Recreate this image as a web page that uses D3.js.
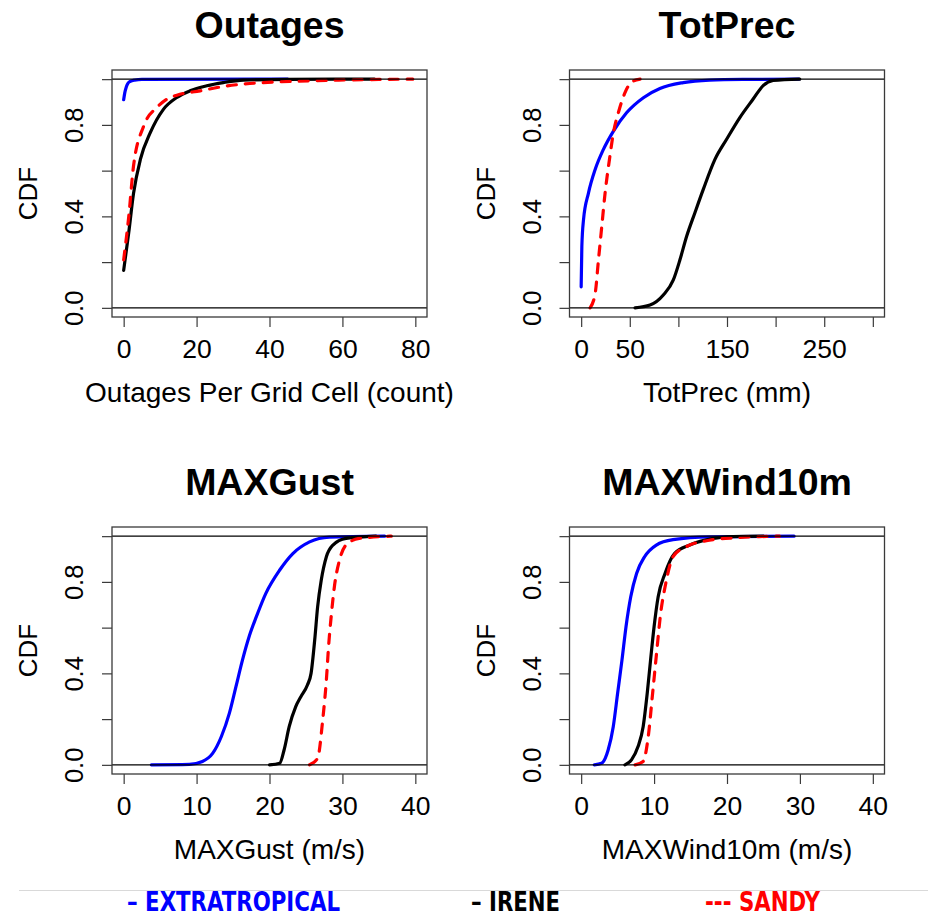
<!DOCTYPE html>
<html>
<head>
<meta charset="utf-8">
<script src="https://cdn.jsdelivr.net/npm/d3@7"></script>
<style>
  html, body { margin: 0; padding: 0; background: #fff; }
  svg { display: block; }
</style>
</head>
<body>
<div id="chart"></div>
<script>
// ---- Empirical CDF curves, [value, cumulative probability] ----
const outagesExtra = [[0,0.91],[0.3,0.94],[0.7,0.965],[1.1,0.98],[1.8,0.99],[3,0.996],[5,0.999],[45,1.0]];
const outagesIrene = [[0,0.164],[1.4,0.33],[2.7,0.5],[4.6,0.65],[7.3,0.766],[10.9,0.868],[14.6,0.92],[18.2,0.949],[22.8,0.971],[27.3,0.985],[32.8,0.996],[45,0.999],[68.8,1.0]];
const outagesSandy = [[0,0.21],[1.4,0.40],[2.7,0.62],[5.5,0.795],[9.1,0.876],[11.8,0.912],[14.6,0.93],[21,0.949],[27.3,0.968],[34.6,0.981],[45.5,0.99],[59,0.996],[79.3,1.0]];

const precExtra = [[0,0.092],[0.7,0.268],[2.4,0.385],[7.5,0.502],[14.4,0.605],[22.9,0.693],[33.2,0.773],[46.9,0.854],[64,0.919],[81,0.959],[105,0.985],[132,0.996],[166,0.999],[224,1.0]];
const precIrene = [[55.4,0],[70.8,0.012],[84.5,0.056],[94.8,0.122],[101.6,0.21],[108.5,0.313],[117,0.416],[125.6,0.518],[137.6,0.649],[149.6,0.737],[163.2,0.832],[176.9,0.913],[187.2,0.972],[197.5,0.994],[224.8,1.0]];
const precSandy = [[9.2,0],[14.4,0.063],[17.8,0.21],[21.2,0.356],[24.6,0.502],[29.1,0.649],[33.2,0.766],[38.3,0.854],[45.2,0.942],[52,0.988],[60.6,1.0]];

const gustExtra = [[3.8,0],[9.0,0.002],[10.8,0.015],[12.2,0.05],[13.4,0.124],[14.5,0.226],[15.4,0.342],[16.3,0.459],[17.2,0.56],[18.2,0.648],[19.5,0.75],[21.4,0.852],[23.2,0.924],[25.5,0.975],[28.2,0.996],[35.8,1.0]];
const gustIrene = [[20.0,0],[21.4,0.007],[22.0,0.065],[22.7,0.167],[23.6,0.255],[24.3,0.298],[25.2,0.349],[25.7,0.4],[26.2,0.546],[26.6,0.691],[27.1,0.808],[27.8,0.91],[28.7,0.961],[30.5,0.99],[34.6,1.0]];
const gustSandy = [[25.5,0],[26.6,0.029],[27.3,0.197],[27.8,0.371],[28.1,0.517],[28.5,0.662],[28.9,0.779],[29.6,0.895],[30.5,0.961],[32.3,0.99],[36.7,1.0]];

const windExtra = [[1.8,0],[2.8,0.007],[3.7,0.065],[4.4,0.167],[5.0,0.313],[5.6,0.459],[6.15,0.604],[6.8,0.735],[7.6,0.837],[8.7,0.91],[10.3,0.961],[12.6,0.985],[17.6,0.997],[29.2,1.0]];
const windIrene = [[6.0,0],[6.9,0.022],[7.8,0.08],[8.5,0.167],[9.06,0.313],[9.52,0.459],[10.0,0.604],[10.56,0.735],[11.5,0.837],[12.8,0.924],[14.9,0.961],[18.1,0.99],[20.8,0.998],[25,1.0]];
const windSandy = [[7.4,0],[8.5,0.015],[9.2,0.124],[9.8,0.313],[10.34,0.488],[10.9,0.662],[11.6,0.793],[12.6,0.91],[14.4,0.954],[17.6,0.982],[21.3,0.993],[27.2,1.0]];

// ---- Panel text and axis ticks ----
const panelTitles = ["Outages", "TotPrec", "MAXGust", "MAXWind10m"];
const xAxisTitles = ["Outages Per Grid Cell (count)", "TotPrec (mm)", "MAXGust (m/s)", "MAXWind10m (m/s)"];
const xLimits = [[0, 80], [0, 300], [0, 40], [0, 40]];
const xTickValues = [[0,20,40,60,80], [0,50,100,150,200,250,300], [0,10,20,30,40], [0,10,20,30,40]];
const xTickLabels = [["0","20","40","60","80"], ["0","50","","150","","250",""], ["0","10","20","30","40"], ["0","10","20","30","40"]];
const yTickValues = [0, 0.2, 0.4, 0.6, 0.8, 1.0];
const yTickLabels = ["0.0", "", "0.4", "", "0.8", ""];
const yAxisTitle = "CDF";

const seriesNames = ["EXTRATROPICAL", "IRENE", "SANDY"];
const seriesColors = ["#0000ff", "#000000", "#ff0000"];
const seriesDash = [null, null, "9,9"];
const legendLabels = ["\u2013 EXTRATROPICAL", "\u2013 IRENE", "--- SANDY"];

const panelSeries = [
  [outagesExtra, outagesIrene, outagesSandy],
  [precExtra, precIrene, precSandy],
  [gustExtra, gustIrene, gustSandy],
  [windExtra, windIrene, windSandy]
];

// ---- Layout ----
const W = 928, H = 916;
const colX = [112, 569.5];
const rowY = [70, 527];
const boxW = 315, boxH = 247;
const FONT = "'Liberation Sans', Arial, sans-serif";

const svg = d3.select("#chart").append("svg")
  .attr("width", W).attr("height", H)
  .attr("viewBox", `0 0 ${W} ${H}`);

svg.append("rect").attr("width", W).attr("height", H).attr("fill", "#fff");

panelTitles.forEach((title, i) => {
  const x0 = colX[i % 2], y0 = rowY[Math.floor(i / 2)];
  const [lo, hi] = xLimits[i];
  const pad = 0.04 * (hi - lo);
  const x = d3.scaleLinear().domain([lo - pad, hi + pad]).range([x0, x0 + boxW]);
  const y = d3.scaleLinear().domain([-0.04, 1.04]).range([y0 + boxH, y0]);

  const g = svg.append("g").attr("class", "panel");

  // Curves
  const line = d3.line()
    .x(d => x(d[0]))
    .y(d => y(d[1]))
    .curve(d3.curveMonotoneX);

  panelSeries[i].forEach((data, k) => {
    g.append("path")
      .datum(data)
      .attr("class", "cdf " + seriesNames[k].toLowerCase())
      .attr("d", line)
      .attr("fill", "none")
      .attr("stroke", seriesColors[k])
      .attr("stroke-width", 3.2)
      .attr("stroke-linecap", "round")
      .attr("stroke-linejoin", "round")
      .attr("stroke-dasharray", seriesDash[k]);
  });

  // Reference lines at 0 and 1
  [0, 1].forEach(v => {
    g.append("line")
      .attr("x1", x0).attr("x2", x0 + boxW)
      .attr("y1", y(v)).attr("y2", y(v))
      .attr("stroke", "#000").attr("stroke-width", 1.1);
  });

  // Plot frame
  g.append("rect")
    .attr("x", x0).attr("y", y0)
    .attr("width", boxW).attr("height", boxH)
    .attr("fill", "none")
    .attr("stroke", "#3a3a3a").attr("stroke-width", 1.3);

  // X axis
  const xa = g.append("g")
    .attr("transform", `translate(0,${y0 + boxH})`)
    .call(d3.axisBottom(x)
      .tickValues(xTickValues[i])
      .tickFormat((d, j) => xTickLabels[i][j])
      .tickSize(10)
      .tickSizeOuter(0));
  xa.select(".domain").remove();
  xa.selectAll(".tick line").attr("stroke", "#3a3a3a").attr("stroke-width", 1.2);
  xa.selectAll(".tick text")
    .attr("y", 41).attr("dy", null)
    .attr("fill", "#000")
    .style("font-family", FONT).style("font-size", "26.5px");

  // Y axis
  const ya = g.append("g")
    .attr("transform", `translate(${x0},0)`)
    .call(d3.axisLeft(y)
      .tickValues(yTickValues)
      .tickFormat((d, j) => yTickLabels[j])
      .tickSize(10)
      .tickSizeOuter(0));
  ya.select(".domain").remove();
  ya.selectAll(".tick line").attr("stroke", "#3a3a3a").attr("stroke-width", 1.2);
  ya.selectAll(".tick text")
    .attr("x", 0).attr("y", -29).attr("dy", null)
    .attr("transform", "rotate(-90)")
    .attr("text-anchor", "middle")
    .attr("fill", "#000")
    .style("font-family", FONT).style("font-size", "25.5px");

  // Titles
  g.append("text")
    .attr("x", x0 + boxW / 2).attr("y", y0 - 32)
    .attr("text-anchor", "middle")
    .style("font-family", FONT).style("font-size", "37.5px").style("font-weight", "bold")
    .text(title);

  g.append("text")
    .attr("x", x0 + boxW / 2).attr("y", y0 + boxH + 85)
    .attr("text-anchor", "middle")
    .style("font-family", FONT).style("font-size", "28px")
    .text(xAxisTitles[i]);

  g.append("text")
    .attr("transform", `translate(${x0 - 75},${y0 + boxH / 2}) rotate(-90)`)
    .attr("text-anchor", "middle")
    .style("font-family", FONT).style("font-size", "26px")
    .text(yAxisTitle);
});

// ---- Legend ----
svg.append("line")
  .attr("x1", 19).attr("x2", W)
  .attr("y1", 890.5).attr("y2", 890.5)
  .attr("stroke", "#d9d9d9").attr("stroke-width", 1.2);

const legendX = [127, 471, 705];
const legendW = [213, 89, 115];
legendLabels.forEach((lab, k) => {
  svg.append("text")
    .attr("x", legendX[k]).attr("y", 911)
    .attr("textLength", legendW[k])
    .attr("lengthAdjust", "spacingAndGlyphs")
    .attr("fill", seriesColors[k])
    .style("font-family", "'Liberation Sans Narrow', 'DejaVu Sans Condensed', 'Liberation Sans', sans-serif")
    .style("font-size", "26px").style("font-weight", "bold")
    .text(lab);
});
</script>
</body>
</html>
